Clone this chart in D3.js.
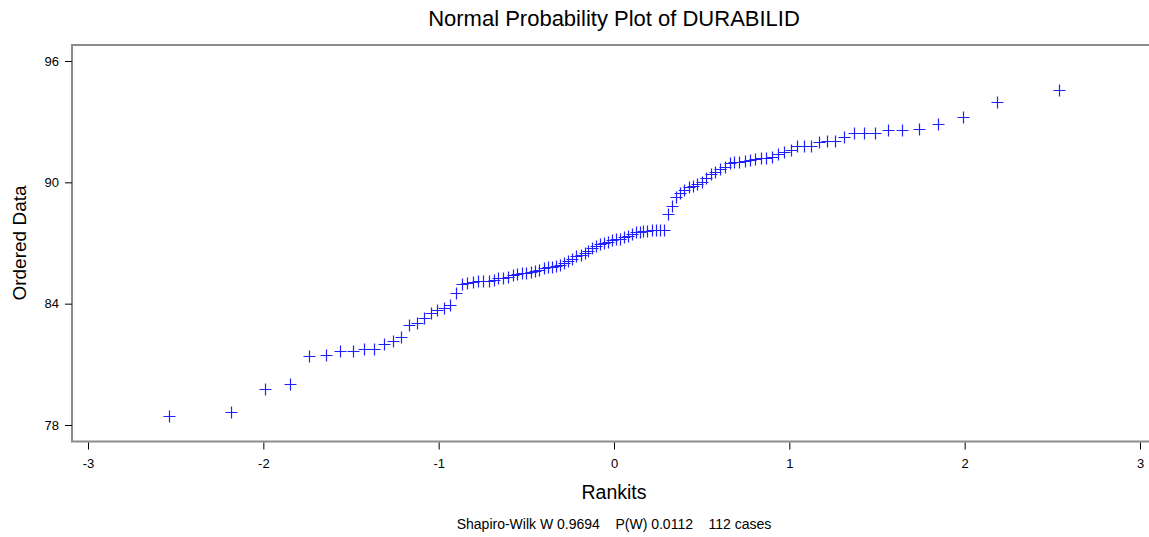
<!DOCTYPE html>
<html>
<head>
<meta charset="utf-8">
<script src="https://cdn.jsdelivr.net/npm/d3@7"></script>
<style>
  body { margin: 0; background: #fff; }
  svg { display: block; font-family: "Liberation Sans", Arial, sans-serif; }
</style>
</head>
<body>
<svg id="chart" width="1149" height="537"></svg>
<script>
// Rankits (expected normal scores) for the 56 lower ranks of n = 112; the upper half mirrors them
const rankitsLower = [-2.538, -2.184, -1.988, -1.848, -1.737, -1.644, -1.563, -1.491, -1.427, -1.367,
  -1.313, -1.261, -1.214, -1.168, -1.125, -1.084, -1.045, -1.007, -0.970, -0.935,
  -0.901, -0.868, -0.836, -0.805, -0.774, -0.745, -0.715, -0.687, -0.659, -0.631,
  -0.604, -0.578, -0.552, -0.526, -0.500, -0.475, -0.450, -0.426, -0.401, -0.377,
  -0.353, -0.330, -0.306, -0.283, -0.260, -0.237, -0.214, -0.191, -0.168, -0.146,
  -0.123, -0.101, -0.078, -0.056, -0.034, -0.011];
const rankitsUpper = [0.011, 0.034, 0.056, 0.078, 0.101, 0.123, 0.146, 0.168, 0.191, 0.214,
  0.237, 0.260, 0.283, 0.306, 0.330, 0.353, 0.377, 0.401, 0.426, 0.450,
  0.475, 0.500, 0.526, 0.552, 0.578, 0.604, 0.631, 0.659, 0.687, 0.715,
  0.745, 0.774, 0.805, 0.836, 0.868, 0.901, 0.935, 0.970, 1.007, 1.045,
  1.084, 1.125, 1.168, 1.214, 1.261, 1.313, 1.367, 1.427, 1.491, 1.563,
  1.644, 1.737, 1.848, 1.988, 2.184, 2.538];

// Ordered data (DURABILID)
const orderedData = [78.44, 78.64, 79.76, 80.01, 81.39, 81.46, 81.66, 81.66, 81.74, 81.74,
  82.02, 82.15, 82.37, 82.93, 83.03, 83.27, 83.55, 83.69, 83.80, 83.93,
  84.55, 84.97, 85.02, 85.07, 85.10, 85.12, 85.14, 85.19, 85.27, 85.29,
  85.34, 85.42, 85.45, 85.50, 85.54, 85.59, 85.63, 85.68, 85.74, 85.79,
  85.81, 85.84, 85.91, 86.00, 86.11, 86.19, 86.36, 86.43, 86.49, 86.60,
  86.73, 86.83, 86.95, 87.02, 87.07, 87.15, 87.18, 87.22, 87.30, 87.37,
  87.44, 87.52, 87.54, 87.57, 87.59, 87.63, 87.64, 87.64, 87.64, 88.42,
  88.83, 89.27, 89.49, 89.64, 89.77, 89.84, 89.94, 90.04, 90.20, 90.41,
  90.53, 90.64, 90.77, 90.94, 90.99, 91.02, 91.05, 91.10, 91.14, 91.19,
  91.22, 91.27, 91.39, 91.48, 91.60, 91.80, 91.80, 91.80, 91.98, 92.04,
  92.04, 92.23, 92.42, 92.42, 92.45, 92.59, 92.59, 92.62, 92.88, 93.21,
  93.97, 94.57];

const xTicks = [-3, -2, -1, 0, 1, 2, 3];
const yTicks = [78, 84, 90, 96];
const title = "Normal Probability Plot of DURABILID";
const xTitle = "Rankits";
const yTitle = "Ordered Data";
const footnote = "Shapiro-Wilk W 0.9694    P(W) 0.0112    112 cases";

const rankits = rankitsLower.concat(rankitsUpper);
const points = orderedData.map((v, i) => ({ x: rankits[i], y: v }));

const svg = d3.select("#chart");
const x = d3.scaleLinear().domain([-3, 3]).range([88, 1140]);
const y = d3.scaleLinear().domain([78, 96]).range([425, 61]);

const frameLeft = 72, frameTop = 45, frameBottom = 441.5, frameRight = 1152;

// frame
svg.append("path")
  .attr("d", `M${frameRight},${frameTop}H${frameLeft}V${frameBottom}H${frameRight}`)
  .attr("fill", "none")
  .attr("stroke", "#8c8c8c")
  .attr("stroke-width", 2);

const fmt = d => String(d);

// y axis
const yAxis = svg.append("g")
  .attr("transform", `translate(${frameLeft},0)`)
  .call(d3.axisLeft(y).tickValues(yTicks).tickSize(7).tickPadding(6).tickFormat(fmt));
yAxis.select(".domain").remove();
yAxis.selectAll("text").attr("font-size", 13).attr("fill", "#000").attr("font-family", "Liberation Sans, Arial, sans-serif");
yAxis.selectAll("line").attr("stroke", "#000");

// x axis
const xAxis = svg.append("g")
  .attr("transform", `translate(0,${frameBottom + 1})`)
  .call(d3.axisBottom(x).tickValues(xTicks).tickSize(7).tickPadding(9).tickFormat(fmt));
xAxis.select(".domain").remove();
xAxis.selectAll("text").attr("font-size", 13).attr("fill", "#000").attr("font-family", "Liberation Sans, Arial, sans-serif");
xAxis.selectAll("line").attr("stroke", "#000");

// points as plus markers
const arm = 6;
svg.append("g")
  .selectAll("path")
  .data(points)
  .join("path")
  .attr("d", d => {
    const cx = Math.round(x(d.x)) + 0.5, cy = Math.round(y(d.y)) + 0.5;
    return `M${cx - arm},${cy}H${cx + arm}M${cx},${cy - arm}V${cy + arm}`;
  })
  .attr("stroke", "#1f1fff")
  .attr("stroke-width", 1.2)
  .attr("fill", "none");

// titles
svg.append("text")
  .attr("x", 614).attr("y", 26)
  .attr("text-anchor", "middle")
  .attr("font-size", 22)
  .text(title);

svg.append("text")
  .attr("x", 614).attr("y", 499)
  .attr("text-anchor", "middle")
  .attr("font-size", 19.5)
  .text(xTitle);

svg.append("text")
  .attr("transform", "translate(26,243) rotate(-90)")
  .attr("text-anchor", "middle")
  .attr("font-size", 19)
  .text(yTitle);

svg.append("text")
  .attr("x", 614).attr("y", 529)
  .attr("text-anchor", "middle")
  .attr("font-size", 14)
  .attr("xml:space", "preserve")
  .style("white-space", "pre")
  .text(footnote);
</script>
</body>
</html>
